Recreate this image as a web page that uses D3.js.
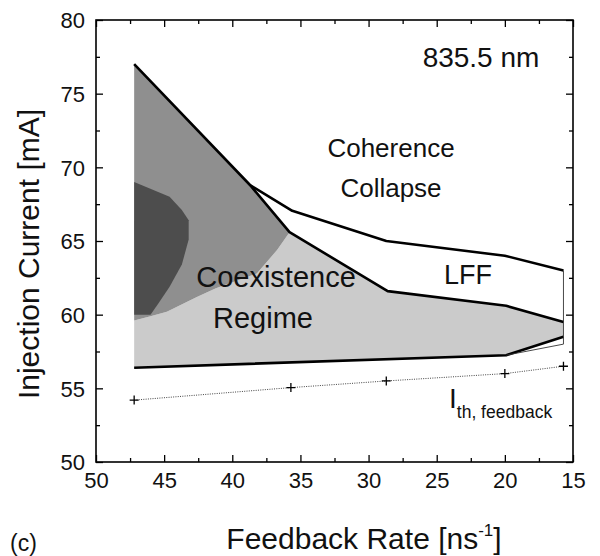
<!DOCTYPE html>
<html lang="en">
<head>
<meta charset="utf-8">
<title>Feedback regimes 835.5 nm</title>
<script src="https://d3js.org/d3.v7.min.js"></script>
<style>
  body { margin: 0; background: #fff; }
  svg { width: 600px; height: 556px; display: block; }
  text { font-family: "Liberation Sans", Arial, Helvetica, sans-serif; fill: #111; }
  .tick-label { font-size: 22px; }
  .axis-title { font-size: 30px; }
</style>
</head>
<body>
<svg></svg>
<script>
// values: [feedback rate ns^-1, injection current mA]
const rateTicks = [50, 45, 40, 35, 30, 25, 20, 15];
const currentTicks = [50, 55, 60, 65, 70, 75, 80];

const darkRegion = [[47.2, 60.0], [47.2, 69.0], [44.6, 68.0], [43.7, 67.1], [43.2, 66.4], [43.2, 65.1],
                    [43.7, 63.4], [44.6, 61.9], [45.4, 60.8], [46.0, 60.0]];
const mediumRegion = [[47.2, 59.6], [47.2, 77.0], [38.7, 68.8], [35.8, 65.6], [36.7, 64.4], [38.2, 62.8],
                      [41.2, 61.8], [42.6, 61.2], [44.8, 60.2], [46.0, 59.9]];
const lightRegion = [[47.2, 59.6], [46.0, 59.9], [44.8, 60.2], [42.6, 61.2], [41.2, 61.8], [38.2, 62.8],
                     [36.7, 64.4], [35.8, 65.6], [28.6, 61.6], [19.9, 60.6], [15.7, 59.5], [15.7, 58.5],
                     [19.9, 57.25], [47.2, 56.4]];

const coexUpper = [[47.2, 77.0], [38.7, 68.8], [35.8, 65.6], [28.6, 61.6], [19.9, 60.6], [15.7, 59.5]];
const collapseLine = [[38.7, 68.8], [35.6, 67.05], [28.7, 65.0], [20.0, 64.0], [15.7, 63.0]];
const lowerLine = [[47.2, 56.4], [19.9, 57.25], [15.7, 58.5]];
const thinLower = [[19.9, 57.25], [15.7, 58.0]];
const thinRight = [[15.7, 63.0], [15.7, 58.0]];

const thRates = [47.2, 35.7, 28.7, 20.0, 15.7];
const thCurrents = [54.2, 55.05, 55.5, 56.0, 56.5];

const mLeft = 96, mRight = 573, mTop = 20, mBottom = 462;
const x = d3.scaleLinear().domain([50, 15]).range([mLeft, mRight]);
const y = d3.scaleLinear().domain([50, 80]).range([mBottom, mTop]);

const svg = d3.select("svg");
const line = d3.line().x(d => x(d[0])).y(d => y(d[1]));

// filled regions
svg.append("path").attr("d", line(lightRegion) + "Z").attr("fill", "#cbcbcb");
svg.append("path").attr("d", line(mediumRegion) + "Z").attr("fill", "#8f8f8f");
svg.append("path").attr("d", line(darkRegion) + "Z").attr("fill", "#4d4d4d");

// boundaries
[coexUpper, collapseLine, lowerLine].forEach(l => {
  svg.append("path").attr("d", line(l)).attr("fill", "none")
     .attr("stroke", "#000").attr("stroke-width", 2.6).attr("stroke-linejoin", "round");
});
[thinLower, thinRight].forEach(l => {
  svg.append("path").attr("d", line(l)).attr("fill", "none")
     .attr("stroke", "#333").attr("stroke-width", 0.9);
});

// threshold line with + markers
const thPts = thRates.map((r, i) => [r, thCurrents[i]]);
svg.append("path").attr("d", line(thPts)).attr("fill", "none")
   .attr("stroke", "#444").attr("stroke-width", 1).attr("stroke-dasharray", "1,1.3");
svg.selectAll(".plus").data(thPts).enter().append("path")
   .attr("class", "plus")
   .attr("d", d => "M" + (x(d[0]) - 4.5) + "," + y(d[1]) + "h9M" + x(d[0]) + "," + (y(d[1]) - 4.5) + "v9")
   .attr("stroke", "#000").attr("stroke-width", 1.3);

// axes, ticks inward on all four sides
const xMinor = d3.range(47.5, 15, -5);
const yMinor = d3.range(52.5, 80, 5);
const gx = svg.append("g").attr("transform", "translate(0," + mBottom + ")")
   .call(d3.axisBottom(x).tickValues(rateTicks).tickSizeInner(-7).tickSizeOuter(0).tickFormat(d3.format("d")));
gx.selectAll("text").attr("class", "tick-label").attr("dy", 0).attr("y", 26);
svg.append("g").attr("transform", "translate(0," + mBottom + ")")
   .call(d3.axisBottom(x).tickValues(xMinor).tickSizeInner(-4).tickSizeOuter(0).tickFormat(""));
svg.append("g").attr("transform", "translate(0," + mTop + ")")
   .call(d3.axisTop(x).tickValues(rateTicks).tickSizeInner(-7).tickSizeOuter(0).tickFormat(""));
svg.append("g").attr("transform", "translate(0," + mTop + ")")
   .call(d3.axisTop(x).tickValues(xMinor).tickSizeInner(-4).tickSizeOuter(0).tickFormat(""));

const gy = svg.append("g").attr("transform", "translate(" + mLeft + ",0)")
   .call(d3.axisLeft(y).tickValues(currentTicks).tickSizeInner(-7).tickSizeOuter(0).tickFormat(d3.format("d")));
gy.selectAll("text").attr("class", "tick-label").attr("x", -11).attr("dy", "0.36em");
svg.append("g").attr("transform", "translate(" + mLeft + ",0)")
   .call(d3.axisLeft(y).tickValues(yMinor).tickSizeInner(-4).tickSizeOuter(0).tickFormat(""));
svg.append("g").attr("transform", "translate(" + mRight + ",0)")
   .call(d3.axisRight(y).tickValues(currentTicks).tickSizeInner(-7).tickSizeOuter(0).tickFormat(""));
svg.append("g").attr("transform", "translate(" + mRight + ",0)")
   .call(d3.axisRight(y).tickValues(yMinor).tickSizeInner(-4).tickSizeOuter(0).tickFormat(""));

svg.selectAll(".domain").remove();
svg.selectAll(".tick line").attr("stroke", "#000").attr("stroke-width", 1.3);
svg.selectAll(".tick text").attr("fill", "#111");

svg.append("rect").attr("x", mLeft).attr("y", mTop).attr("width", mRight - mLeft).attr("height", mBottom - mTop)
   .attr("fill", "none").attr("stroke", "#000").attr("stroke-width", 1.6);

// labels
function label(txt, cx, by, size) {
  svg.append("text").attr("x", cx).attr("y", by).attr("font-size", size)
     .attr("text-anchor", "middle").text(txt);
}
label("835.5 nm", 481, 67, 28);
label("Coherence", 391, 157, 26);
label("Collapse", 391, 197, 26);
label("LFF", 468, 284, 27);
label("Coexistence", 276, 287, 29);
label("Regime", 263, 328, 29);

const ith = svg.append("text").attr("x", 449).attr("y", 408);
ith.append("tspan").attr("font-size", 28).text("I");
ith.append("tspan").attr("font-size", 17.5).attr("dy", 10).text("th, feedback");

svg.append("text").attr("class", "axis-title").attr("text-anchor", "middle")
   .attr("transform", "translate(39,254) rotate(-90)").text("Injection Current [mA]");
const xt = svg.append("text").attr("class", "axis-title").attr("x", 364).attr("y", 549).attr("text-anchor", "middle");
xt.append("tspan").text("Feedback Rate [ns");
xt.append("tspan").attr("font-size", 17).attr("dy", -13).text("-1");
xt.append("tspan").attr("dy", 13).text("]");
svg.append("text").attr("x", 10).attr("y", 551).attr("font-size", 23).text("(c)");
</script>
</body>
</html>
